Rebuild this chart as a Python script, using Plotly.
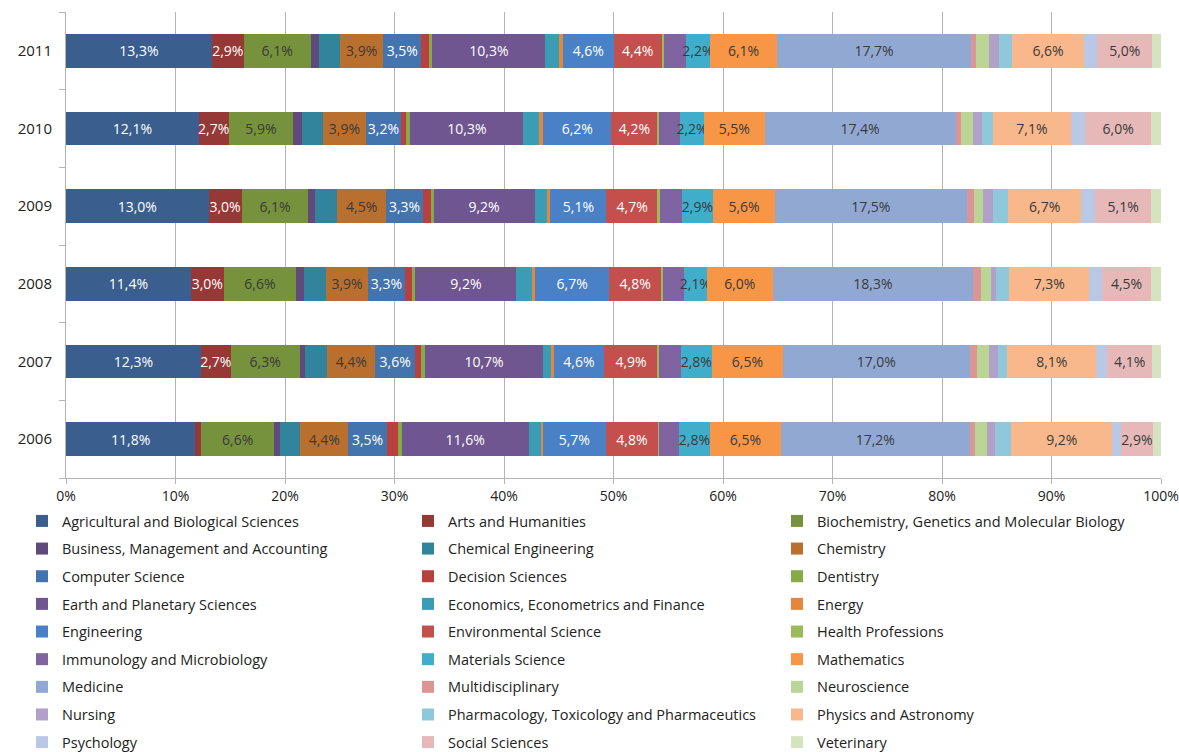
import plotly.graph_objects as go

# Publication share by subject area, 2006-2011 (percent of yearly total)
years = ["2006", "2007", "2008", "2009", "2010", "2011"]

agricultural = [11.8, 12.3, 11.4, 13.0, 12.1, 13.3]
arts = [0.55, 2.7, 3.0, 3.0, 2.7, 2.9]
biochemistry = [6.6, 6.3, 6.6, 6.1, 5.9, 6.1]
business = [0.55, 0.5, 0.7, 0.6, 0.8, 0.8]
chemical_eng = [1.85, 2.0, 2.0, 2.0, 1.9, 1.9]
chemistry = [4.4, 4.4, 3.9, 4.5, 3.9, 3.9]
computer_science = [3.5, 3.6, 3.3, 3.3, 3.2, 3.5]
decision = [1.0, 0.6, 0.7, 0.75, 0.5, 0.65]
dentistry = [0.35, 0.35, 0.3, 0.25, 0.35, 0.35]
earth = [11.6, 10.7, 9.2, 9.2, 10.3, 10.3]
economics = [1.15, 0.75, 1.4, 1.15, 1.4, 1.2]
energy = [0.15, 0.25, 0.35, 0.3, 0.4, 0.4]
engineering = [5.7, 4.6, 6.7, 5.1, 6.2, 4.6]
environmental = [4.8, 4.9, 4.8, 4.7, 4.2, 4.4]
health = [0.1, 0.1, 0.15, 0.15, 0.15, 0.2]
immunology = [1.8, 2.0, 1.9, 2.0, 1.9, 2.0]
materials = [2.8, 2.8, 2.1, 2.9, 2.2, 2.2]
mathematics = [6.5, 6.5, 6.0, 5.6, 5.5, 6.1]
medicine = [17.2, 17.0, 18.3, 17.5, 17.4, 17.7]
multidisciplinary = [0.5, 0.65, 0.7, 0.65, 0.5, 0.45]
neuroscience = [1.05, 1.15, 0.9, 0.85, 1.05, 1.2]
nursing = [0.75, 0.75, 0.5, 0.85, 0.85, 0.85]
pharmacology = [1.5, 0.9, 1.2, 1.4, 1.0, 1.2]
physics = [9.2, 8.1, 7.3, 6.7, 7.1, 6.6]
psychology = [0.8, 1.0, 1.15, 1.25, 1.3, 1.2]
social = [2.9, 4.1, 4.5, 5.1, 6.0, 5.0]
veterinary = [0.75, 0.8, 0.9, 0.9, 0.9, 0.8]

# (name, values, fill colour, label colour or None when unlabelled)
series = [
    ("Agricultural and Biological Sciences", agricultural, "#3A5F8E", "white"),
    ("Arts and Humanities", arts, "#953836", "white"),
    ("Biochemistry, Genetics and Molecular Biology", biochemistry, "#76923C", "#3A3A3A"),
    ("Business, Management and Accounting", business, "#5F4A7B", None),
    ("Chemical Engineering", chemical_eng, "#31849B", None),
    ("Chemistry", chemistry, "#B9702F", "#3A3A3A"),
    ("Computer Science", computer_science, "#4474AE", "white"),
    ("Decision Sciences", decision, "#B8403E", None),
    ("Dentistry", dentistry, "#86AA48", None),
    ("Earth and Planetary Sciences", earth, "#6F5691", "white"),
    ("Economics, Econometrics and Finance", economics, "#3A9DB5", None),
    ("Energy", energy, "#E6863A", None),
    ("Engineering", engineering, "#4A80C6", "white"),
    ("Environmental Science", environmental, "#C4504D", "white"),
    ("Health Professions", health, "#9BBB59", None),
    ("Immunology and Microbiology", immunology, "#8064A2", None),
    ("Materials Science", materials, "#40AECB", "#3A3A3A"),
    ("Mathematics", mathematics, "#F79646", "#3A3A3A"),
    ("Medicine", medicine, "#91A9D2", "#3A3A3A"),
    ("Multidisciplinary", multidisciplinary, "#D99694", None),
    ("Neuroscience", neuroscience, "#BBD597", None),
    ("Nursing", nursing, "#B1A0C7", None),
    ("Pharmacology, Toxicology and Pharmaceutics", pharmacology, "#8EC8DA", None),
    ("Physics and Astronomy", physics, "#F8B88B", "#3A3A3A"),
    ("Psychology", psychology, "#B9C8E4", None),
    ("Social Sciences", social, "#E6B9B8", "#3A3A3A"),
    ("Veterinary", veterinary, "#D5E4BF", None),
]

FONT = "'Open Sans', 'Noto Sans', sans-serif"


def pct_label(v):
    return f"{v:.1f}".replace(".", ",") + "%"


fig = go.Figure()
for i, (name, vals, color, txtcolor) in enumerate(series):
    if txtcolor is not None:
        texts = [pct_label(v) if v >= 2.05 else "" for v in vals]
    else:
        texts = ["" for _ in vals]
    fig.add_trace(go.Bar(
        y=years,
        x=vals,
        name=name,
        orientation="h",
        marker=dict(color=color, line=dict(width=0)),
        text=texts,
        textposition="inside",
        insidetextanchor="middle",
        textangle=0,
        textfont=dict(family=FONT, size=14, color=txtcolor or "white"),
        legendgroup=name,
        legend=["legend", "legend2", "legend3"][i % 3],
        hovertemplate="%{y}: %{x:.1f}%<extra>" + name + "</extra>",
    ))

legend_common = dict(
    orientation="v",
    xref="container",
    yref="container",
    xanchor="left",
    yanchor="top",
    y=1 - 505 / 752,
    tracegroupgap=5.8,
    font=dict(family=FONT, size=14.5, color="#222222"),
    bgcolor="rgba(0,0,0,0)",
    itemclick=False,
)

fig.update_layout(
    barmode="stack",
    barnorm="percent",
    bargap=0.57,
    width=1179,
    height=752,
    margin=dict(l=66, r=18, t=12, b=274, autoexpand=False),
    plot_bgcolor="white",
    paper_bgcolor="white",
    uniformtext=dict(minsize=14, mode="show"),
    legend=dict(legend_common, x=22 / 1179),
    legend2=dict(legend_common, x=408 / 1179),
    legend3=dict(legend_common, x=777 / 1179),
    font=dict(family=FONT, color="#222222"),
)

fig.update_xaxes(
    range=[0, 100],
    dtick=10,
    ticksuffix="%",
    showgrid=True,
    gridcolor="#B3B3B3",
    gridwidth=1,
    zeroline=False,
    showline=True,
    linecolor="#B3B3B3",
    ticks="outside",
    ticklen=5,
    tickcolor="#B3B3B3",
    tickfont=dict(family=FONT, size=14, color="#222222"),
    automargin=False,
    fixedrange=True,
)
fig.update_yaxes(
    categoryorder="array",
    categoryarray=years,
    showline=True,
    linecolor="#B3B3B3",
    ticks="outside",
    tickson="boundaries",
    ticklen=6,
    tickcolor="#B3B3B3",
    showgrid=False,
    tickfont=dict(family=FONT, size=15, color="#222222"),
    ticklabelstandoff=10,
    automargin=False,
    fixedrange=True,
)

fig.write_html("out.html")
